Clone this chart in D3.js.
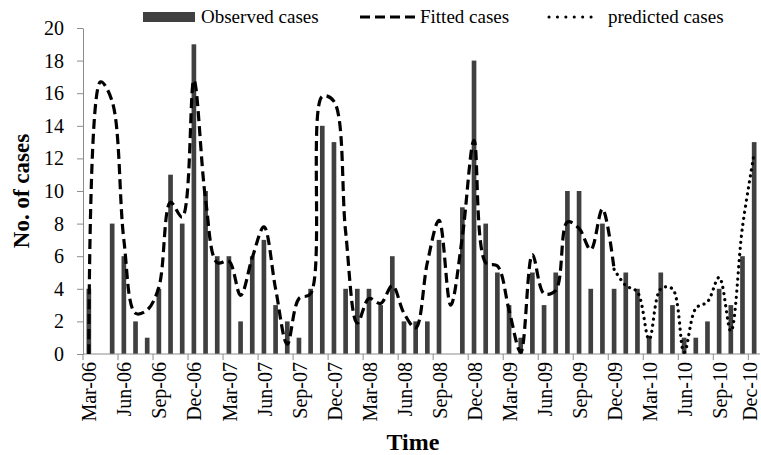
<!DOCTYPE html>
<html>
<head>
<meta charset="utf-8">
<script src="https://cdn.jsdelivr.net/npm/d3@7"></script>
<style>
  body { margin: 0; background: #fff; }
  svg text { font-family: "Liberation Serif", "Times New Roman", serif; fill: #000; }
</style>
</head>
<body>
<div id="chart"></div>
<script>
// Monthly categories Mar-06 .. Dec-10
const months = d3.utcMonth.range(new Date(Date.UTC(2006, 2, 1)), new Date(Date.UTC(2011, 0, 1)));
const fmt = d3.utcFormat("%b-%y");
const monthLabels = months.map(fmt);

// observed cases (bars)
const observed = [4, 0, 8, 6, 2, 1, 4, 11, 8, 19,
  10, 6, 6, 2, 6, 7, 3, 2, 1, 4,
  14, 13, 4, 4, 4, 3, 6, 2, 2, 2,
  7, 0, 9, 18, 8, 5, 3, 1, 5, 3,
  5, 10, 10, 4, 8, 4, 5, 4, 1, 5,
  3, 1, 1, 2, 4, 3, 6, 13];

// fitted cases Mar-06 .. Dec-09
const fitted = [0, 16.7, 15.5, 7.0, 2.5, 2.7, 4.1, 9.3, 8.4, 16.8,
  9.5, 5.6, 5.7, 3.6, 5.9, 7.8, 4.0, 0.6, 3.4, 3.7,
  15.8, 15.5, 7.5, 1.9, 3.4, 3.1, 4.2, 2.5, 1.6, 5.6,
  8.2, 3.0, 7.2, 13.1, 5.6, 5.4, 2.7, 0.1, 6.1, 3.7,
  3.9, 8.1, 7.7, 6.4, 8.9, 5.2];

// predicted cases Dec-09 .. Dec-10
const predictedStart = 45;
const predicted = [5.2, 4.2, 3.8, 0.9, 4.0, 4.0, 0.1, 2.8, 3.2, 4.7, 1.4, 7.8, 12.3];

const yTicks = [0, 2, 4, 6, 8, 10, 12, 14, 16, 18, 20];
const legendItems = ["Observed cases", "Fitted cases", "predicted cases"];

const width = 761, height = 455;
const margin = { top: 28, right: 1, bottom: 101, left: 83 };
const axisColor = "#8c8c8c";

const svg = d3.select("#chart").append("svg")
    .attr("width", width)
    .attr("height", height);

const x = d3.scaleBand()
    .domain(d3.range(months.length))
    .range([margin.left, width - margin.right])
    .padding(0);

const y = d3.scaleLinear()
    .domain([0, 20])
    .range([height - margin.bottom, margin.top]);

const bw = x.bandwidth();
const cx = i => x(i) + bw / 2;

// bars
svg.append("g").selectAll("rect")
    .data(observed)
    .join("rect")
    .attr("x", (d, i) => cx(i) - bw * 0.2)
    .attr("width", bw * 0.4)
    .attr("y", d => y(d))
    .attr("height", d => y(0) - y(d))
    .attr("fill", "#404040");

// y axis
const yAxis = svg.append("g")
    .attr("transform", `translate(${margin.left},0)`)
    .call(d3.axisLeft(y).tickValues(yTicks).tickSize(6).tickPadding(13).tickSizeOuter(0));
yAxis.select(".domain").attr("stroke", axisColor);
yAxis.selectAll(".tick line").attr("stroke", axisColor);
yAxis.selectAll(".tick text")
    .style("font-family", '"Liberation Serif", serif')
    .style("font-size", "20px")
    .attr("fill", "#000");

// x axis
const xAxis = svg.append("g");
xAxis.append("line")
    .attr("x1", margin.left).attr("x2", width - margin.right)
    .attr("y1", y(0)).attr("y2", y(0))
    .attr("stroke", axisColor);

const tickIdx = d3.range(0, months.length, 3);
xAxis.selectAll(".xt")
    .data(tickIdx)
    .join("line")
    .attr("class", "xt")
    .attr("x1", i => x(i)).attr("x2", i => x(i))
    .attr("y1", y(0)).attr("y2", y(0) + 6)
    .attr("stroke", axisColor);

xAxis.selectAll(".xl")
    .data(tickIdx)
    .join("text")
    .attr("class", "xl")
    .attr("transform", i => `translate(${Math.min(cx(i) + 1, 750)},${y(0) + 8}) rotate(-90)`)
    .attr("text-anchor", "end")
    .attr("dy", "0.33em")
    .style("font-size", "20px")
    .text(i => monthLabels[i]);

// lines
const line = d3.line()
    .x(d => cx(d.i))
    .y(d => y(d.v))
    .curve(d3.curveCatmullRom.alpha(0.5));

svg.append("path")
    .datum(fitted.map((v, i) => ({ i, v })))
    .attr("d", line)
    .attr("fill", "none")
    .attr("stroke", "#000")
    .attr("stroke-width", 3.2)
    .attr("stroke-dasharray", "10,5");

svg.append("path")
    .datum(predicted.map((v, k) => ({ i: predictedStart + k, v })))
    .attr("d", line)
    .attr("fill", "none")
    .attr("stroke", "#000")
    .attr("stroke-width", 3.2)
    .attr("stroke-linecap", "round")
    .attr("stroke-dasharray", "0.1,6");

// axis titles
svg.append("text")
    .attr("transform", `translate(29,${(y(0) + y(20)) / 2}) rotate(-90)`)
    .attr("text-anchor", "middle")
    .style("font-size", "23px")
    .style("font-weight", "bold")
    .text("No. of cases");

svg.append("text")
    .attr("x", 413)
    .attr("y", 450)
    .attr("text-anchor", "middle")
    .style("font-size", "24px")
    .style("font-weight", "bold")
    .text("Time");

// legend
const legend = svg.append("g");
legend.append("rect")
    .attr("x", 143).attr("y", 12).attr("width", 52).attr("height", 10)
    .attr("fill", "#404040");
legend.append("line")
    .attr("x1", 360).attr("x2", 415).attr("y1", 17).attr("y2", 17)
    .attr("stroke", "#000").attr("stroke-width", 3.2)
    .attr("stroke-dasharray", "10,5");
legend.append("line")
    .attr("x1", 549).attr("x2", 599).attr("y1", 17).attr("y2", 17)
    .attr("stroke", "#000").attr("stroke-width", 3)
    .attr("stroke-linecap", "round")
    .attr("stroke-dasharray", "0.1,8.3");

const legendX = [201, 420, 608];
legend.selectAll(".lt")
    .data(legendItems)
    .join("text")
    .attr("class", "lt")
    .attr("x", (d, i) => legendX[i])
    .attr("y", 23)
    .style("font-size", "19px")
    .text(d => d);
</script>
</body>
</html>
